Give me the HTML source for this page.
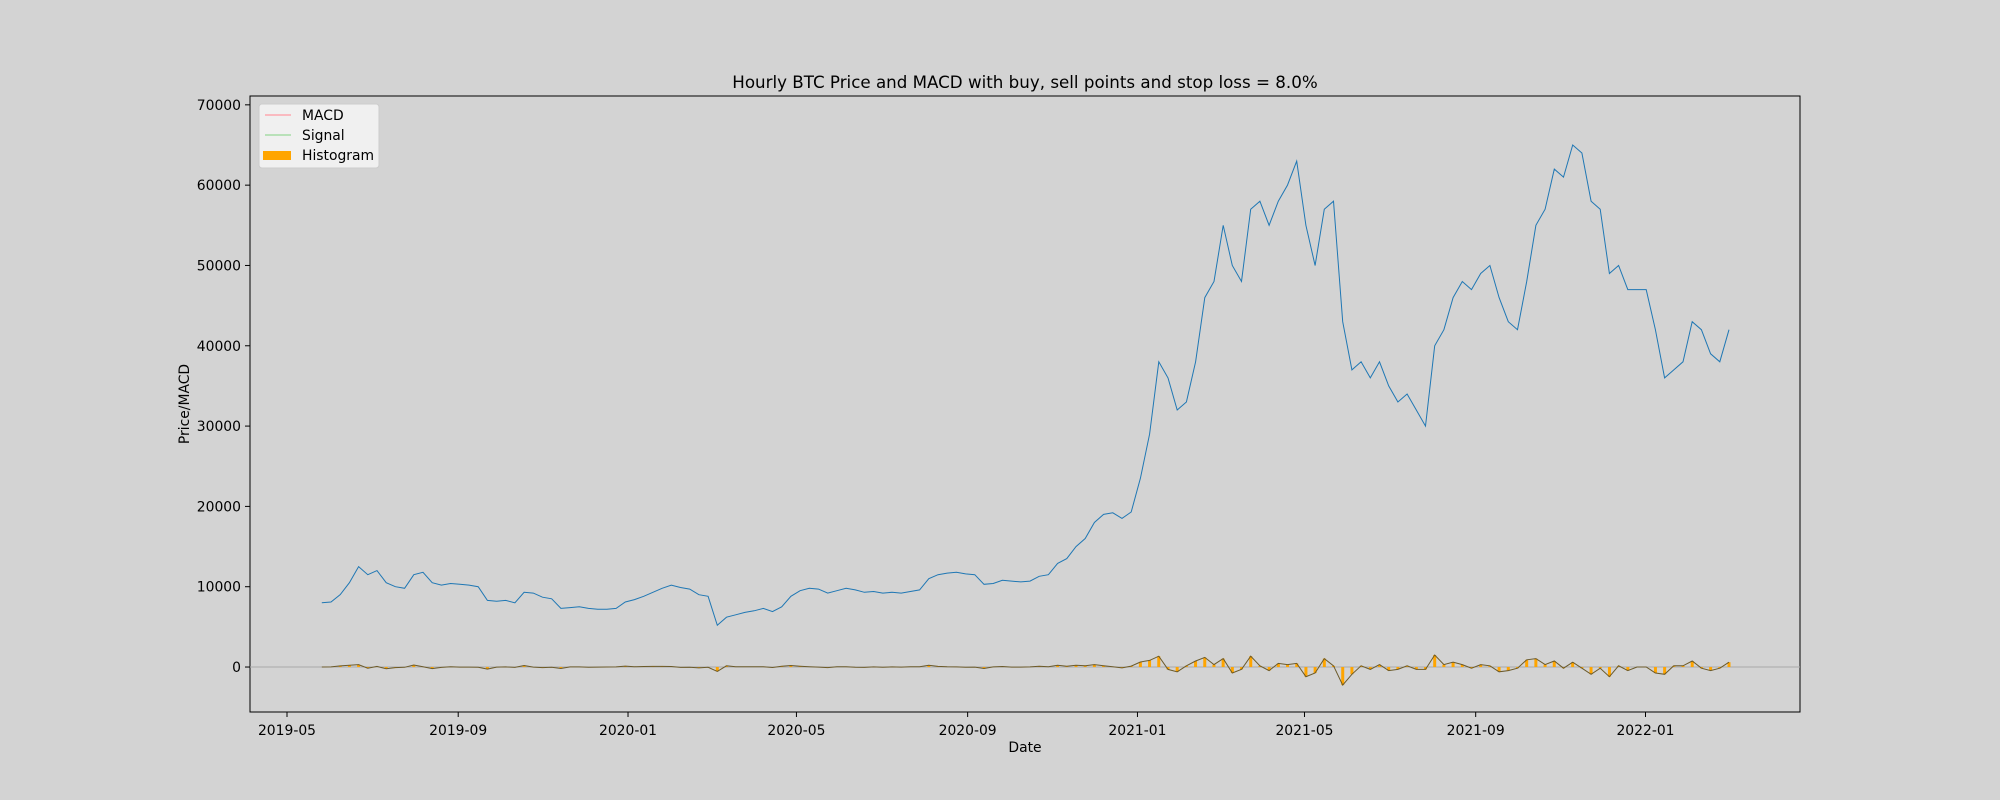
<!DOCTYPE html>
<html><head><meta charset="utf-8"><style>
html,body{margin:0;padding:0;background:#d3d3d3;}
svg{display:block;font-family:"DejaVu Sans","Liberation Sans",sans-serif;}
</style></head><body>
<svg id="chart" width="2000" height="800" viewBox="0 0 2000 800">
<rect x="0" y="0" width="2000" height="800" fill="#d3d3d3"/>
<rect x="250" y="96" width="1550" height="616" fill="#d3d3d3" stroke="#000" stroke-width="1"/>
<text x="1025" y="88" font-size="16.7" text-anchor="middle">Hourly BTC Price and MACD with buy, sell points and stop loss = 8.0%</text>
<text x="1025" y="752" font-size="13.9" text-anchor="middle">Date</text>
<text x="0" y="0" font-size="13.9" text-anchor="middle" transform="translate(189,404) rotate(-90)">Price/MACD</text>
<g id="xticks"></g>
<g id="yticks"></g>
<g id="series"></g>
<g>
<rect x="259" y="104" width="120" height="64" rx="3" fill="#f5f5f5" fill-opacity="0.85" stroke="#ccc"/>
<line x1="265" y1="115" x2="291" y2="115" stroke="#ff9aa2" stroke-width="1.3"/>
<text x="302" y="120" font-size="13.9">MACD</text>
<line x1="265" y1="135" x2="291" y2="135" stroke="#98d898" stroke-width="1.3"/>
<text x="302" y="140" font-size="13.9">Signal</text>
<rect x="263" y="151" width="28" height="9" fill="#ffa500"/>
<text x="302" y="160" font-size="13.9">Histogram</text>
</g>
</svg>
<script>
const xTickLabels=["2019-05","2019-09","2020-01","2020-05","2020-09","2021-01","2021-05","2021-09","2022-01"];
const yTickValues=[0,10000,20000,30000,40000,50000,60000,70000];
const startDate="2019-05-26";
const endDate="2022-03-02";
const prices=[8000,8100,9000,10500,12500,11500,12000,10500,10000,9800,11500,11800,10500,10200,10400,10300,10200,10000,8300,8200,8300,8000,9300,9200,8700,8500,7300,7400,7500,7300,7200,7200,7300,8100,8400,8800,9300,9800,10200,9900,9700,9000,8800,5200,6200,6500,6800,7000,7300,6900,7500,8800,9500,9800,9700,9200,9500,9800,9600,9300,9400,9200,9300,9200,9400,9600,11000,11500,11700,11800,11600,11500,10300,10400,10800,10700,10600,10700,11300,11500,12900,13500,15000,16000,18000,19000,19200,18500,19300,23500,29000,38000,36000,32000,33000,38000,46000,48000,55000,50000,48000,57000,58000,55000,58000,60000,63000,55000,50000,57000,58000,43000,37000,38000,36000,38000,35000,33000,34000,32000,30000,40000,42000,46000,48000,47000,49000,50000,46000,43000,42000,48000,55000,57000,62000,61000,65000,64000,58000,57000,49000,50000,47000,47000,47000,42000,36000,37000,38000,43000,42000,39000,38000,42000];
const X0=Date.parse("2019-05-01"),PXPD=1358.5/976,XL=287;
function xScale(ms){return XL+(ms-X0)/86400000*PXPD;}
const YMIN=-5600,YMAX=71100;
function yScale(v){return 712-(v-YMIN)/(YMAX-YMIN)*616;}
const NS="http://www.w3.org/2000/svg";
function mk(t,a,p){const e=document.createElementNS(NS,t);for(const k in a)e.setAttribute(k,a[k]);p.appendChild(e);return e;}
const xt=document.getElementById('xticks'),yt=document.getElementById('yticks'),sg=document.getElementById('series');
xTickLabels.forEach(l=>{const x=xScale(Date.parse(l+"-01"));
const t=mk('line',{x1:x,y1:712,x2:x,y2:717,stroke:'#000'},xt);


const s=mk('text',{x:x,y:735,'font-size':13.9,'text-anchor':'middle'},xt);s.textContent=l;

});
yTickValues.forEach(v=>{const y=yScale(v);
const t=mk('line',{x1:245,y1:y,x2:250,y2:y,stroke:'#000'},yt);


const s=mk('text',{x:241,y:y+5,'font-size':13.9,'text-anchor':'end'},yt);s.textContent=v;

});
const zl=mk('line',{x1:250,x2:1800,y1:yScale(0),y2:yScale(0),stroke:'#aaa','stroke-width':1},sg);


const s0=Date.parse(startDate),s1=Date.parse(endDate),n=prices.length,step=(s1-s0)/(n-1);
const hist=prices.map((p,i)=>i?0.15*(p-prices[i-1]):0);
let hp='';hist.forEach((h,i)=>{const x=xScale(s0+i*step);hp+=(i?'L':'M')+x.toFixed(1)+' '+yScale(h).toFixed(1);});
hist.forEach((h,i)=>{const x=xScale(s0+i*step);const b=mk('rect',{x:x-1.5,width:3,y:Math.min(yScale(h),yScale(0)),height:Math.abs(yScale(h)-yScale(0)),fill:'#ffa500'},sg);

});
const ml=mk('path',{d:hp,fill:'none',stroke:'#6b5a2a','stroke-width':1},sg);


let pp='';prices.forEach((p,i)=>{pp+=(i?'L':'M')+xScale(s0+i*step).toFixed(1)+' '+yScale(p).toFixed(1);});
const pl=mk('path',{d:pp,fill:'none',stroke:'#1f77b4','stroke-width':1},sg);


</script>
</body></html>
